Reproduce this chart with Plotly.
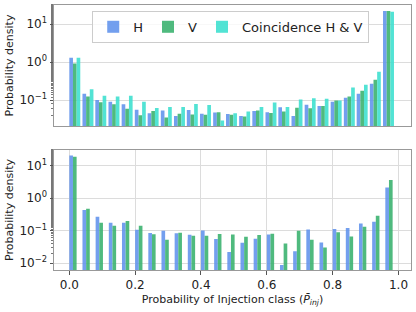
import plotly.graph_objects as go
from plotly.subplots import make_subplots

# Bin left edges (probability of injection class)
top_bins = [0.000, 0.040, 0.079, 0.119, 0.159, 0.199, 0.238, 0.278, 0.318, 0.357,
            0.397, 0.437, 0.476, 0.516, 0.556, 0.596, 0.635, 0.675, 0.715, 0.754,
            0.794, 0.834, 0.873, 0.913, 0.953]
bottom_bins = [0.00, 0.04, 0.08, 0.12, 0.16, 0.20, 0.24, 0.28, 0.32, 0.36,
               0.40, 0.44, 0.48, 0.52, 0.56, 0.60, 0.64, 0.68, 0.72, 0.76,
               0.80, 0.84, 0.88, 0.92, 0.96]

# Top panel densities
top_H = [1.30, 0.146, 0.100, 0.091, 0.078, 0.056, 0.045, 0.053, 0.038, 0.055,
         0.044, 0.047, 0.043, 0.038, 0.052, 0.048, 0.065, 0.038, 0.075, 0.070,
         0.091, 0.116, 0.146, 0.268, 22.0]
top_V = [0.92, 0.124, 0.088, 0.078, 0.059, 0.040, 0.052, 0.035, 0.044, 0.042,
         0.041, 0.048, 0.041, 0.037, 0.053, 0.046, 0.050, 0.063, 0.061, 0.070,
         0.097, 0.124, 0.175, 0.341, 22.0]
top_C = [1.30, 0.194, 0.131, 0.124, 0.131, 0.090, 0.062, 0.066, 0.066, 0.079,
         0.074, 0.029, 0.045, 0.050, 0.066, 0.086, 0.066, 0.103, 0.112, 0.108,
         0.097, 0.214, 0.252, 0.555, 20.9]

# Bottom panel densities
bot_H = [20.4, 0.428, 0.266, 0.174, 0.174, 0.105, 0.084, 0.098, 0.082, 0.074,
         0.100, 0.055, 0.022, 0.042, 0.056, 0.075, 0.0087, 0.023, 0.107, 0.043,
         0.111, 0.120, 0.166, 0.187, 2.10]
bot_V = [18.6, 0.469, 0.174, 0.141, 0.196, 0.141, 0.077, 0.052, 0.085, 0.069,
         0.069, 0.078, 0.076, 0.064, 0.073, 0.080, 0.040, 0.098, 0.052, 0.030,
         0.088, 0.066, 0.131, 0.286, 3.57]

col_H = "#6495ED"
col_V = "#3CB371"
col_C = "#40E0D0"
bw = 0.0111

fig = make_subplots(rows=2, cols=1, vertical_spacing=0.09)

fig.add_trace(go.Bar(x=top_bins, y=top_H, name="H", marker_color=col_H, opacity=0.9,
                     width=bw, offset=0, marker_line_width=0), row=1, col=1)
fig.add_trace(go.Bar(x=top_bins, y=top_V, name="V", marker_color=col_V, opacity=0.9,
                     width=bw, offset=bw, marker_line_width=0), row=1, col=1)
fig.add_trace(go.Bar(x=top_bins, y=top_C, name="Coincidence H &amp; V", marker_color=col_C,
                     opacity=0.9, width=bw, offset=2 * bw, marker_line_width=0), row=1, col=1)
fig.add_trace(go.Bar(x=bottom_bins, y=bot_H, name="H", marker_color=col_H, opacity=0.9,
                     width=bw, offset=0, marker_line_width=0, showlegend=False), row=2, col=1)
fig.add_trace(go.Bar(x=bottom_bins, y=bot_V, name="V", marker_color=col_V, opacity=0.9,
                     width=bw, offset=bw, marker_line_width=0, showlegend=False), row=2, col=1)

font = dict(family="DejaVu Sans", size=11, color="#222222")
fig.update_layout(
    width=416, height=312,
    margin=dict(l=54, r=5, t=5, b=42),
    barmode="overlay",
    plot_bgcolor="white", paper_bgcolor="white",
    font=font,
    legend=dict(orientation="h", x=0.883, y=0.978, xanchor="right", yanchor="top",
                bordercolor="#cccccc", borderwidth=1, bgcolor="rgba(255,255,255,0.8)",
                font=dict(family="DejaVu Sans", size=13, color="#222222"),
                itemwidth=30, tracegroupgap=0),
)

xr = [-0.0465, 1.038]
axis_common = dict(showline=True, linecolor="#999999", linewidth=1, mirror=True)
fig.update_xaxes(range=xr, **axis_common)
fig.update_xaxes(row=1, col=1, showticklabels=False, showgrid=False, ticks="")
fig.update_xaxes(row=2, col=1, showgrid=True, gridcolor="#dcdcdc", gridwidth=1,
                 tickvals=[0.0, 0.2, 0.4, 0.6, 0.8, 1.0],
                 ticktext=["0.0", "0.2", "0.4", "0.6", "0.8", "1.0"],
                 ticks="outside", ticklen=3.5, tickcolor="#555555",
                 tickfont=dict(size=12),
                 title=dict(text="Probability of Injection class (<i>P̄</i><sub><i>inj</i></sub>)",
                            standoff=4, font=dict(size=11)))

fig.update_yaxes(type="log", showgrid=True, gridcolor="#dcdcdc", gridwidth=1,
                 ticks="outside", ticklen=3.5, tickcolor="#555555",
                 tickfont=dict(size=12),
                 minor=dict(ticks="outside", ticklen=2, tickcolor="#777777", showgrid=False),
                 title=dict(text="Probability density", standoff=3, font=dict(size=11)),
                 **axis_common)
fig.update_yaxes(row=1, col=1, range=[-1.684, 1.5],
                 tickvals=[0.1, 1, 10],
                 ticktext=["10<sup>−1</sup>", "10<sup>0</sup>", "10<sup>1</sup>"])
fig.update_yaxes(row=2, col=1, range=[-2.215, 1.48],
                 tickvals=[0.01, 0.1, 1, 10],
                 ticktext=["10<sup>−2</sup>", "10<sup>−1</sup>", "10<sup>0</sup>", "10<sup>1</sup>"])

fig.update_layout(yaxis=dict(domain=[0.543, 1.0]), yaxis2=dict(domain=[0.0, 0.453]))

fig.write_html("out.html", config={"displayModeBar": False},
               post_script="document.body.style.margin='0px';")
